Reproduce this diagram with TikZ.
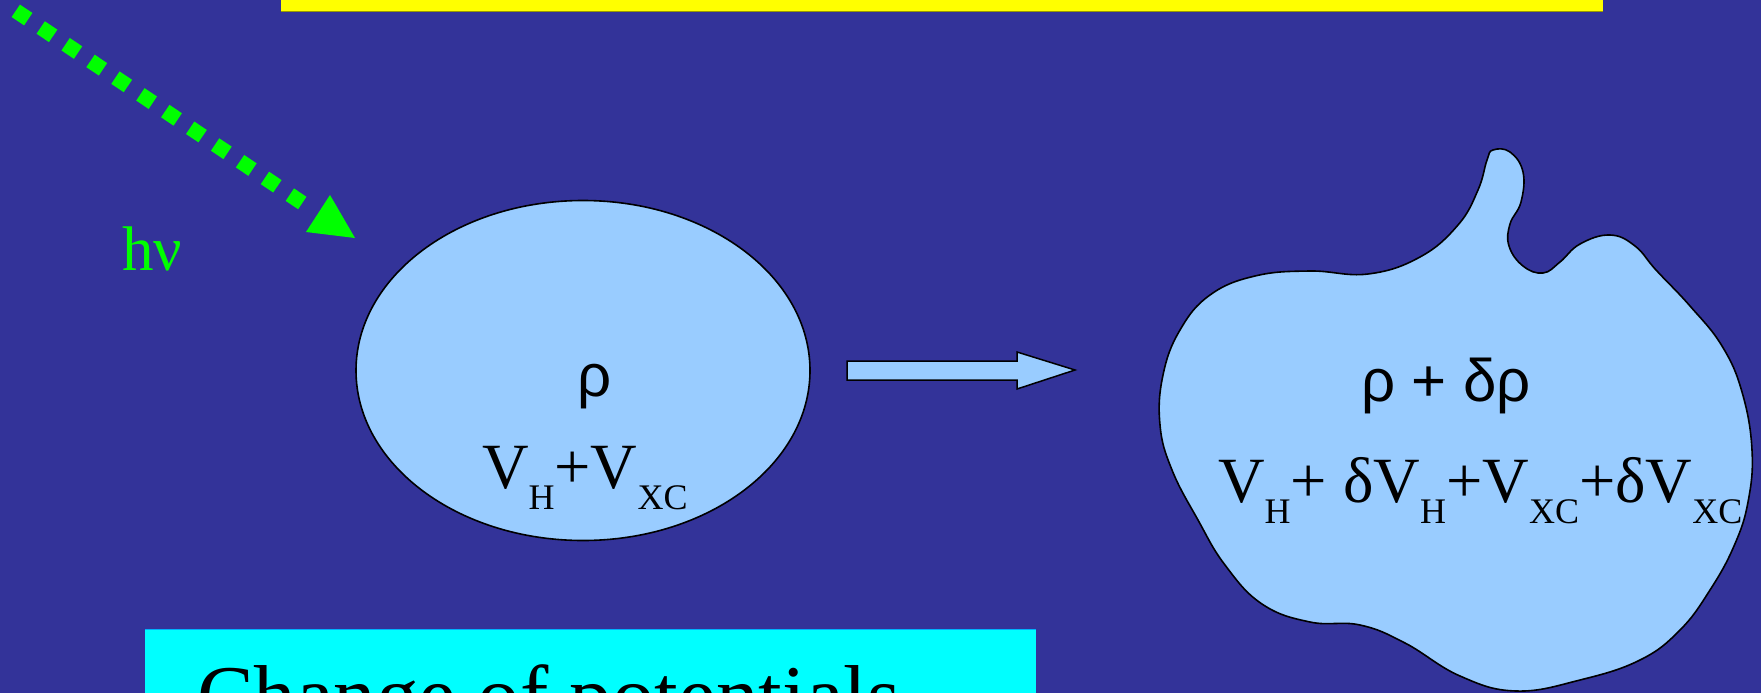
\documentclass[tikz,border=0pt]{standalone}
\usepackage{fontspec}
\setmainfont{Liberation Serif}
\newfontfamily\grsans{Liberation Sans}
\definecolor{bgblue}{HTML}{333399}
\definecolor{lightblue}{HTML}{99CCFF}
\definecolor{phgreen}{HTML}{00FF00}
\definecolor{cyanbox}{HTML}{00FFFF}
\definecolor{yellowbox}{HTML}{FFFF00}
\newcommand\sbs[1]{\raisebox{-21pt}{\fontsize{36}{40}\selectfont #1}}
\begin{document}
\begin{tikzpicture}[x=1pt,y=-1pt,
  txt/.style={inner sep=0pt, outer sep=0pt, text=black},
  blobshape/.style={fill=lightblue, draw=black, line width=1.6pt},
  photon/.style={draw=phgreen, line width=15pt, dash pattern=on 15pt off 15pt}]
\useasboundingbox (0,0) rectangle (1761,693);
\clip (0,0) rectangle (1761,693);
\fill[bgblue] (0,0) rectangle (1761,693);
% yellow title box (cut off)
\fill[yellowbox] (281,-5) rectangle (1603,11);
\draw[yellowbox!60!black, line width=0.8pt] (281,11) -- (1603,11);
% cyan box
\fill[cyanbox] (145,629) rectangle (1036,700);
\draw[cyanbox!70!blue, line width=0.8pt] (145,629) -- (1036,629);
\node[txt, anchor=base west, font=\fontsize{85}{95}\selectfont] (chg) at (197,724) {Change of potentials};
% photon
\coordinate (ph0) at (15.8,10.8);
\coordinate (ph1) at (302.3,203);
\draw[photon] (ph0) -- (ph1);
\fill[phgreen] (330,195) -- (355,238) -- (306,232) -- cycle;
\node[txt, anchor=base west, text=phgreen, font=\fontsize{63}{70}\selectfont] (hnu) at (122,270) {hν};
% ellipse
\draw[blobshape] (583,370.5) ellipse [x radius=227pt, y radius=170pt];
\node[txt, anchor=base west, font=\grsans\fontsize{60}{66}\selectfont] (rho) at (577,396) {ρ};
\node[txt, anchor=base west, font=\fontsize{64.5}{70}\selectfont] (pot) at (482,488) {V\sbs{H}+V\sbs{XC}};
% block arrow
\draw[blobshape, line width=1.5pt, line join=miter] (847,361) -- (1017,361) -- (1017,352) -- (1075,370) -- (1017,389) -- (1017,380) -- (847,380) -- cycle;
% blob
\draw[blobshape] plot[smooth cycle, tension=0.7] coordinates {
(1493,150) (1510,152) (1523,172) (1521,202) (1510,224) (1509,246) (1523,266)
(1543,273) (1560,262) (1580,244) (1610,235) (1635,246) (1656,270) (1690,306)
(1722,346) (1742,392) (1752,450) (1748,502) (1734,546) (1710,590) (1680,630)
(1640,660) (1580,680) (1516,691) (1460,676) (1405,643) (1360,625) (1310,622)
(1262,604) (1225,565) (1198,520) (1172,470) (1160,425) (1163,375) (1180,330)
(1210,295) (1255,276) (1310,271) (1368,274) (1420,257) (1458,225) (1478,190)
(1487,160)};
\node[txt, anchor=base west, font=\grsans\fontsize{60}{66}\selectfont] (rho2) at (1361,401) {ρ + δρ};
\node[txt, anchor=base west, font=\fontsize{64.5}{70}\selectfont] (pot2) at (1218,502) {V\sbs{H}+ δV\sbs{H}+V\sbs{XC}+δV\sbs{XC}};
\end{tikzpicture}
\end{document}
